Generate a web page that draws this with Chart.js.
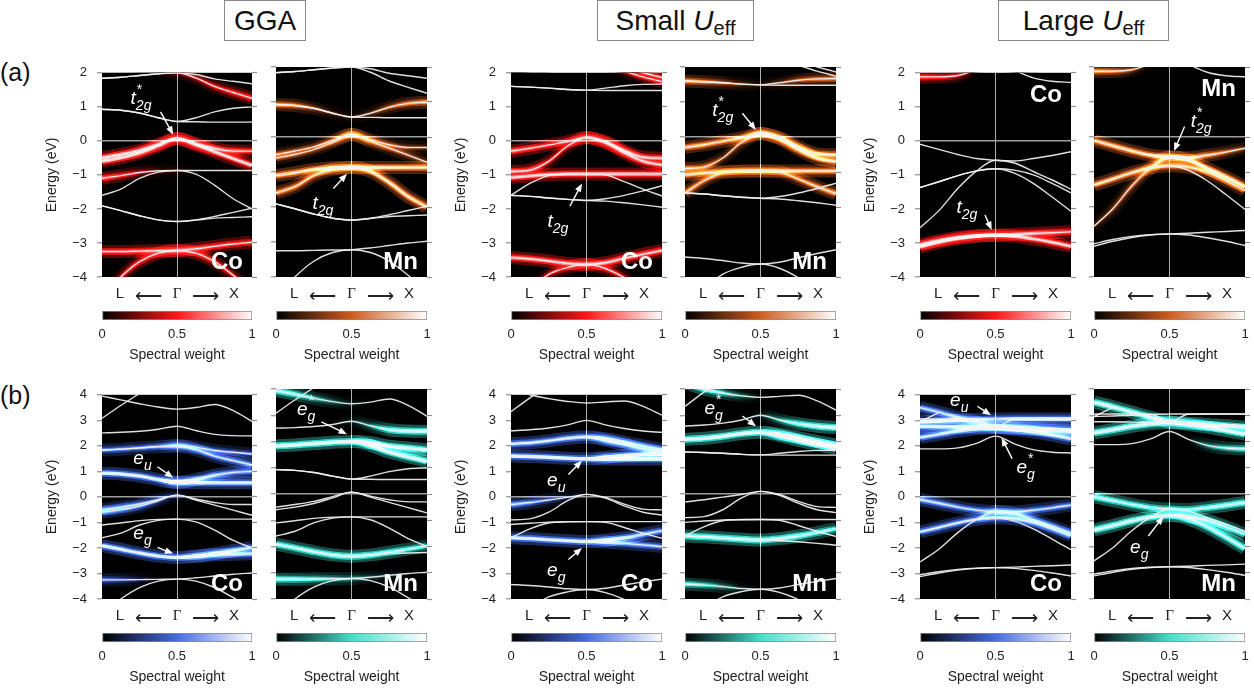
<!DOCTYPE html>
<html>
<head>
<meta charset="utf-8">
<script src="https://cdn.jsdelivr.net/npm/chart.js@4.4.0/dist/chart.umd.min.js"></script>
<style>
body{margin:0;background:#fff;width:1254px;height:690px;position:relative;overflow:hidden;font-family:"Liberation Sans",Arial,sans-serif;color:#111}
canvas{position:absolute}
.box{position:absolute;top:0;height:39px;border:1px solid #8a8a8a;font-size:28px;line-height:39px;text-align:center;background:#fff}
.box sub{font-size:20px;vertical-align:-5px;line-height:0}
.tag{position:absolute;left:0;font-size:25px}
</style>
</head>
<body>
<div class="box" style="left:224px;width:80px">GGA</div>
<div class="box" style="left:597px;width:155px">Small <i>U</i><sub>eff</sub></div>
<div class="box" style="left:998px;width:169px">Large <i>U</i><sub>eff</sub></div>
<div class="tag" style="top:58px">(a)</div>
<div class="tag" style="top:381px">(b)</div>
<script>
// k path L -> Gamma -> X, energies in eV at these k points
const kPoints = [0, 0.125, 0.25, 0.375, 0.5, 0.625, 0.75, 0.875, 1];
const kLabels = ['L', '\u27F5', '\u0393', '\u27F6', 'X'];
const kLabelPos = [0.12, 0.31, 0.5, 0.69, 0.88];
const rangeA = [-4, 2];
const rangeB = [-4, 4];
const weightTicks = [0, 0.5, 1];

const ggaBands = [
  [3.95, 3.8, 3.65, 3.52, 3.44, 3.5, 3.62, 3.38, 2.96],
  [3.08, 3.58, 4.05, null, null, null, null, null, null],
  [2.51, 2.53, 2.57, 2.65, 2.77, 2.6, 2.45, 2.4, 2.39],
  [1.84, 1.87, 1.92, 1.97, 2.0, 1.95, 1.82, 1.75, 1.68],
  [1.84, 1.87, 1.92, 1.97, 2.0, 1.85, 1.6, 1.42, 1.25],
  [0.93, 0.9, 0.82, 0.68, 0.57, 0.68, 0.85, 0.96, 1.0],
  [0.93, 0.9, 0.82, 0.68, 0.57, 0.56, 0.55, 0.55, 0.55],
  [-0.5, -0.4, -0.28, -0.1, 0.07, -0.08, -0.22, -0.3, -0.3],
  [-0.6, -0.5, -0.36, -0.15, 0.07, -0.12, -0.32, -0.52, -0.72],
  [-1.1, -1.02, -0.93, -0.88, -0.87, -0.87, -0.87, -0.87, -0.87],
  [-1.6, -1.42, -1.1, -0.92, -0.87, -0.98, -1.3, -1.7, -2.0],
  [-1.91, -2.05, -2.2, -2.32, -2.37, -2.32, -2.22, -2.1, -1.98],
  [-1.91, -2.05, -2.2, -2.32, -2.37, -2.33, -2.27, -2.25, -2.23],
  [-3.25, -3.25, -3.24, -3.23, -3.22, -3.17, -3.1, -3.03, -2.98],
  [-4.6, -4.0, -3.55, -3.3, -3.22, -3.3, -3.55, -3.95, -4.4]
];
const smallBands = [
  [4.25, 4.0, 3.85, 3.74, 3.68, 3.72, 3.76, 3.55, 3.2],
  [3.34, 3.88, 4.4, null, null, null, null, null, null],
  [2.59, 2.63, 2.7, 2.82, 3.0, 2.82, 2.68, 2.58, 2.53],
  [2.08, 2.12, 2.2, 2.3, 2.35, 2.28, 2.15, 2.0, 1.86],
  [2.08, 2.12, 2.2, 2.3, 2.35, 2.22, 2.05, 1.88, 1.74],
  [1.6, 1.58, 1.55, 1.51, 1.49, 1.55, 1.62, 1.66, 1.67],
  [1.6, 1.58, 1.55, 1.51, 1.49, 1.48, 1.48, 1.48, 1.48],
  [-0.3, -0.22, -0.12, -0.02, 0.1, -0.02, -0.28, -0.48, -0.51],
  [-0.9, -0.86, -0.6, -0.15, 0.1, -0.05, -0.35, -0.6, -0.71],
  [-1.08, -1.03, -0.99, -0.97, -0.97, -0.97, -0.97, -0.97, -0.97],
  [-1.6, -1.25, -1.02, -0.98, -0.97, -1.0, -1.2, -1.42, -1.62],
  [-1.6, -1.63, -1.68, -1.72, -1.75, -1.7, -1.6, -1.47, -1.32],
  [-1.6, -1.63, -1.68, -1.72, -1.75, -1.77, -1.82, -1.88, -1.95],
  [-3.43, -3.47, -3.53, -3.6, -3.63, -3.58, -3.45, -3.33, -3.22],
  [-4.8, -4.35, -3.92, -3.72, -3.63, -3.75, -4.02, -4.4, -4.9]
];
const largeBands = [
  [3.5, 3.32, 3.12, 2.92, 2.75, 2.7, 2.65, 2.6, 2.54],
  [2.95, 3.3, null, null, null, null, null, null, null],
  [2.95, 2.97, 3.0, 3.03, 3.05, 3.05, 3.05, 3.05, 3.05],
  [3.05, 3.05, 3.05, 3.04, 2.75, 3.04, 3.05, 3.05, 3.05],
  [2.75, 2.75, 2.74, 2.73, 2.72, 2.7, 2.68, 2.65, 2.62],
  [2.33, 2.45, 2.58, 2.68, 2.72, 2.65, 2.55, 2.42, 2.28],
  [1.88, 1.88, 1.92, 2.1, 2.38, 2.08, 1.85, 1.75, 1.72],
  [-0.1, -0.25, -0.4, -0.52, -0.57, -0.59, -0.52, -0.43, -0.32],
  [-2.55, -2.05, -1.4, -0.88, -0.57, -0.65, -0.9, -1.15, -1.42],
  [-1.37, -1.2, -1.02, -0.88, -0.82, -0.86, -1.0, -1.25, -1.53],
  [-1.37, -1.2, -1.02, -0.88, -0.82, -0.95, -1.25, -1.65, -2.07],
  [-3.05, -2.93, -2.84, -2.79, -2.77, -2.75, -2.72, -2.7, -2.67],
  [-3.12, -2.98, -2.87, -2.8, -2.77, -2.8, -2.88, -2.98, -3.1]
];

// spectral weight along each band (0 = none), one entry per band
const ggaCoT2g = [0, 0, 0, 0, [0, 0, 0, 0, 0.15, 0.25, 0.35, 0.45, 0.5], 0, 0,
  [0.9, 0.9, 0.85, 0.75, 0.7, 0.75, 0.8, 0.65, 0.45], [0.9, 0.9, 0.85, 0.75, 0.7, 0.8, 0.85, 0.9, 0.9],
  [0.6, 0.45, 0.25, 0.1, 0.05, 0, 0, 0, 0], 0, 0, 0,
  [0.55, 0.55, 0.6, 0.65, 0.7, 0.65, 0.55, 0.5, 0.5], [0, 0.3, 0.45, 0.55, 0.6, 0.55, 0.45, 0.3, 0.2]];
const ggaMnT2g = [0, 0, 0, 0, 0, [0.55, 0.45, 0.25, 0.1, 0.05, 0.15, 0.3, 0.45, 0.55], 0,
  [0.3, 0.25, 0.2, 0.3, 0.55, 0.35, 0.25, 0.2, 0.15], [0.3, 0.25, 0.2, 0.3, 0.55, 0.4, 0.3, 0.25, 0.2],
  [0.65, 0.7, 0.75, 0.85, 0.9, 0.85, 0.8, 0.75, 0.7], [0.55, 0.5, 0.5, 0.6, 0.7, 0.75, 0.75, 0.75, 0.6], 0, 0, 0, 0];
const ggaCoEg = [0, 0, 0, [0.4, 0.4, 0.4, 0.45, 0.45, 0.4, 0.35, 0.3, 0.3], [0, 0, 0, 0, 0.45, 0.45, 0.45, 0.5, 0.5],
  [0.8, 0.8, 0.75, 0.75, 0.8, 0.7, 0.6, 0.5, 0.45], [0, 0, 0, 0, 0.8, 0.8, 0.75, 0.75, 0.75],
  [0.45, 0.4, 0.3, 0.15, 0.05, 0, 0, 0, 0], [0.45, 0.4, 0.3, 0.15, 0.05, 0, 0, 0, 0], 0, 0,
  [0.8, 0.75, 0.75, 0.8, 0.85, 0.8, 0.75, 0.65, 0.55], [0, 0, 0, 0, 0, 0.5, 0.6, 0.6, 0.6],
  [0.35, 0.25, 0.1, 0, 0, 0, 0, 0, 0], 0];
const ggaMnEg = [[0.65, 0.5, 0.3, 0.15, 0.05, 0, 0, 0, 0], 0, [0, 0, 0, 0, 0.05, 0.2, 0.55, 0.75, 0.8],
  [0.85, 0.85, 0.85, 0.9, 0.95, 0.9, 0.9, 0.85, 0.8], [0, 0, 0, 0, 0, 0.9, 0.85, 0.85, 0.8], 0, 0, 0, 0, 0, 0,
  [0.55, 0.55, 0.55, 0.6, 0.65, 0.6, 0.55, 0.45, 0.35], 0, [0.55, 0.5, 0.4, 0.3, 0.2, 0.1, 0.05, 0, 0], 0];

const smallCoT2g = [0, 0, 0, [0, 0, 0, 0, 0, 0.1, 0.25, 0.35, 0.4], [0, 0, 0, 0, 0, 0, 0.2, 0.35, 0.4], 0, 0,
  [0.65, 0.6, 0.5, 0.55, 0.65, 0.7, 0.75, 0.75, 0.75], [0.75, 0.7, 0.35, 0.3, 0.6, 0.7, 0.75, 0.75, 0.75],
  [0.85, 0.85, 0.85, 0.9, 0.92, 0.9, 0.88, 0.85, 0.85], 0, 0, 0,
  [0.75, 0.75, 0.75, 0.8, 0.85, 0.8, 0.7, 0.65, 0.65], [0, 0, 0.3, 0.45, 0.55, 0.45, 0.3, 0, 0]];
const smallMnT2g = [0, 0, 0, 0, 0, [0.55, 0.45, 0.3, 0.15, 0.05, 0.15, 0.3, 0.4, 0.45], 0,
  [0.6, 0.6, 0.55, 0.65, 0.8, 0.8, 0.75, 0.7, 0.7], [0.55, 0.5, 0.2, 0.3, 0.8, 0.8, 0.75, 0.7, 0.7],
  [0.65, 0.65, 0.65, 0.7, 0.75, 0.7, 0.65, 0.6, 0.6], [0.55, 0.45, 0.35, 0.3, 0.3, 0.35, 0.45, 0.55, 0.6], 0, 0, 0, 0];
const smallCoEg = [0, 0, 0, [0.6, 0.6, 0.6, 0.65, 0.7, 0.65, 0.6, 0.55, 0.5], [0, 0, 0, 0, 0, 0.6, 0.55, 0.5, 0.5],
  [0.85, 0.85, 0.85, 0.85, 0.9, 0.85, 0.8, 0.8, 0.8], [0, 0, 0, 0, 0, 0.85, 0.85, 0.85, 0.85],
  [0.55, 0.45, 0.25, 0.1, 0, 0, 0, 0, 0], 0, 0, 0,
  [0.75, 0.75, 0.7, 0.75, 0.8, 0.75, 0.7, 0.6, 0.5], [0, 0, 0, 0, 0, 0.6, 0.55, 0.5, 0.45], 0, 0];
const smallMnEg = [[0.6, 0.55, 0.35, 0.15, 0, 0, 0, 0, 0], 0, [0, 0, 0, 0, 0.05, 0.25, 0.55, 0.75, 0.8],
  [0.85, 0.85, 0.85, 0.9, 0.92, 0.9, 0.9, 0.85, 0.85], [0, 0, 0, 0, 0, 0.9, 0.85, 0.85, 0.8], 0, 0, 0, 0, 0, 0,
  [0.6, 0.6, 0.6, 0.65, 0.7, 0.65, 0.6, 0.5, 0.4], 0, [0.45, 0.35, 0.2, 0.05, 0, 0, 0, 0, 0], 0];

const largeCoT2g = [0, 0, 0, 0, 0, 0, [0.55, 0.45, 0.3, 0, 0, 0, 0, 0, 0], 0, 0, 0, 0,
  [0.85, 0.85, 0.85, 0.9, 0.9, 0.85, 0.8, 0.65, 0.55], [0.85, 0.85, 0.88, 0.9, 0.9, 0.9, 0.88, 0.85, 0.8]];
const largeMnT2g = [0, 0, 0, 0, 0, 0, [0.55, 0.45, 0.25, 0, 0, 0, 0, 0, 0],
  [0.6, 0.65, 0.7, 0.8, 0.92, 0.9, 0.55, 0.35, 0.2], [0.1, 0.2, 0.3, 0.45, 0.92, 0.9, 0.9, 0.85, 0.8],
  [0.6, 0.6, 0.6, 0.65, 0.75, 0.65, 0.55, 0.45, 0.4], 0, 0, 0];
const largeCoEg = [[0.55, 0.55, 0.55, 0.5, 0.5, 0.5, 0.5, 0.5, 0.5], 0, [0.95, 0.95, 0.95, 0.9, 0.55, 0.9, 0.95, 0.95, 0.95], 0,
  [0.7, 0.7, 0.7, 0.7, 0.7, 0.7, 0.7, 0.7, 0.7], [0.65, 0.65, 0.65, 0.65, 0.65, 0.65, 0.65, 0.65, 0.65], 0,
  [0.6, 0.55, 0.5, 0.5, 0.5, 0.5, 0.5, 0.45, 0.45], [0, 0, 0, 0, 0.5, 0.5, 0.5, 0.45, 0.45],
  [0.55, 0.55, 0.55, 0.6, 0.6, 0.6, 0.55, 0.5, 0.5], 0, 0, 0];
const largeMnEg = [[0.85, 0.85, 0.85, 0.85, 0.85, 0.8, 0.8, 0.8, 0.8], 0, 0, 0, 0,
  [0.8, 0.8, 0.8, 0.82, 0.85, 0.82, 0.8, 0.8, 0.8], [0, 0, 0, 0, 0, 0, 0.2, 0.35, 0.45],
  [0.6, 0.55, 0.5, 0.5, 0.5, 0.45, 0.55, 0.6, 0.65], 0,
  [0.7, 0.7, 0.72, 0.75, 0.8, 0.75, 0.7, 0.6, 0.5], [0, 0, 0, 0, 0, 0.6, 0.6, 0.6, 0.6], 0, 0];

const red = [255, 22, 22], orange = [206, 92, 30], blue = [68, 108, 228], teal = [64, 224, 205];

const panels = [
  {bands: ggaBands, weights: ggaCoT2g, base: red, range: rangeA, left: 102, top: 67, w: 150, el: 'Co', axis: true,
   notes: [{t: 't', sub: '2g', sup: '*', x: 0.26, y: 1.2, from: [0.39, 0.85], to: [0.475, 0.18]}]},
  {bands: ggaBands, weights: ggaMnT2g, base: orange, range: rangeA, left: 276, top: 67, w: 151, el: 'Mn',
   notes: [{t: 't', sub: '2g', x: 0.31, y: -1.95, from: [0.38, -1.47], to: [0.47, -1.05]}]},
  {bands: smallBands, weights: smallCoT2g, base: red, range: rangeA, left: 511, top: 67, w: 151, el: 'Co', axis: true,
   notes: [{t: 't', sub: '2g', x: 0.31, y: -2.4, from: [0.39, -1.92], to: [0.47, -1.25]}]},
  {bands: smallBands, weights: smallMnT2g, base: orange, range: rangeA, left: 685, top: 67, w: 151, el: 'Mn',
   notes: [{t: 't', sub: '2g', sup: '*', x: 0.25, y: 0.72, from: [0.38, 0.68], to: [0.47, 0.2]}]},
  {bands: largeBands, weights: largeCoT2g, base: red, range: rangeA, left: 920, top: 67, w: 151, el: 'Co', axis: true, elTop: true,
   notes: [{t: 't', sub: '2g', x: 0.31, y: -2.0, from: [0.43, -2.18], to: [0.475, -2.62]}]},
  {bands: largeBands, weights: largeMnT2g, base: orange, range: rangeA, left: 1094, top: 67, w: 151, el: 'Mn', elTop: true,
   notes: [{t: 't', sub: '2g', sup: '*', x: 0.71, y: 0.4, from: [0.6, 0.3], to: [0.53, -0.4]}]},
  {bands: ggaBands, weights: ggaCoEg, base: blue, range: rangeB, left: 102, top: 389, w: 150, el: 'Co', axis: true,
   notes: [{t: 'e', sub: 'u', x: 0.27, y: 1.45, from: [0.37, 1.18], to: [0.475, 0.75]},
           {t: 'e', sub: 'g', x: 0.27, y: -1.5, from: [0.37, -1.98], to: [0.475, -2.22]}]},
  {bands: ggaBands, weights: ggaMnEg, base: teal, range: rangeB, left: 276, top: 389, w: 151, el: 'Mn',
   notes: [{t: 'e', sub: 'g', sup: '*', x: 0.2, y: 3.15, from: [0.3, 2.75], to: [0.47, 2.28]}]},
  {bands: smallBands, weights: smallCoEg, base: blue, range: rangeB, left: 511, top: 389, w: 151, el: 'Co', axis: true,
   notes: [{t: 'e', sub: 'u', x: 0.3, y: 0.6, from: [0.38, 0.88], to: [0.47, 1.42]},
           {t: 'e', sub: 'g', x: 0.3, y: -2.95, from: [0.38, -2.45], to: [0.47, -2.0]}]},
  {bands: smallBands, weights: smallMnEg, base: teal, range: rangeB, left: 685, top: 389, w: 151, el: 'Mn',
   notes: [{t: 'e', sub: 'g', sup: '*', x: 0.19, y: 3.2, from: [0.38, 2.97], to: [0.47, 2.58]}]},
  {bands: largeBands, weights: largeCoEg, base: blue, range: rangeB, left: 920, top: 389, w: 151, el: 'Co', axis: true,
   notes: [{t: 'e', sub: 'u', x: 0.26, y: 3.7, from: [0.38, 3.55], to: [0.47, 3.2]},
           {t: 'e', sub: 'g', sup: '*', x: 0.7, y: 1.1, from: [0.61, 1.5], to: [0.54, 2.32]}]},
  {bands: largeBands, weights: largeMnEg, base: teal, range: rangeB, left: 1094, top: 389, w: 151, el: 'Mn',
   notes: [{t: 'e', sub: 'g', x: 0.3, y: -2.1, from: [0.36, -1.6], to: [0.46, -0.85]}]}
];

const PH = 210, TOP = 12, BOTTOM = 30, RIGHT = 8;
const tickGray = '#8e8e8e';
const sans = '"Liberation Sans", Arial, sans-serif';

function mix(a, b, t) { return a.map((v, i) => Math.round(v + (b[i] - v) * t)); }
function weightColor(base, w, alpha) {
  const c = w < 0.5 ? mix([0, 0, 0], base, w / 0.5) : mix(base, [255, 255, 255], (w - 0.5) / 0.5);
  return 'rgba(' + c[0] + ',' + c[1] + ',' + c[2] + ',' + alpha + ')';
}
function haloColor(base, w, alpha) {
  const c = mix([0, 0, 0], base, Math.min(1, w * 1.6));
  return 'rgba(' + c[0] + ',' + c[1] + ',' + c[2] + ',' + alpha + ')';
}
function bandGradient(chart, colorFn, base, ws, alpha) {
  if (!chart.chartArea) return 'rgba(0,0,0,0)';
  const xs = chart.scales.x;
  const g = chart.ctx.createLinearGradient(xs.getPixelForValue(0), 0, xs.getPixelForValue(1), 0);
  ws.forEach((w, i) => g.addColorStop(kPoints[i], colorFn(base, w, alpha)));
  return g;
}
function fmtE(v) { return v < 0 ? '\u2212' + (-v) : String(v); }

function drawNote(ctx, chart, n) {
  const xs = chart.scales.x, ys = chart.scales.y;
  const x1 = xs.getPixelForValue(n.from[0]), y1 = ys.getPixelForValue(n.from[1]);
  const x2 = xs.getPixelForValue(n.to[0]), y2 = ys.getPixelForValue(n.to[1]);
  const a = Math.atan2(y2 - y1, x2 - x1);
  ctx.save();
  ctx.strokeStyle = '#fff'; ctx.fillStyle = '#fff'; ctx.lineWidth = 1.4;
  ctx.beginPath(); ctx.moveTo(x1, y1); ctx.lineTo(x2 - 7 * Math.cos(a), y2 - 7 * Math.sin(a)); ctx.stroke();
  ctx.beginPath(); ctx.moveTo(x2, y2);
  ctx.lineTo(x2 - 9 * Math.cos(a - 0.38), y2 - 9 * Math.sin(a - 0.38));
  ctx.lineTo(x2 - 9 * Math.cos(a + 0.38), y2 - 9 * Math.sin(a + 0.38));
  ctx.closePath(); ctx.fill();
  const cx = xs.getPixelForValue(n.x), cy = ys.getPixelForValue(n.y);
  ctx.textAlign = 'left'; ctx.textBaseline = 'alphabetic';
  ctx.font = 'italic 19px ' + sans;
  const bw = ctx.measureText(n.t).width;
  ctx.font = 'italic 14px ' + sans;
  const sw = ctx.measureText(n.sub).width;
  const x0 = cx - (bw + sw) / 2;
  ctx.font = 'italic 19px ' + sans; ctx.fillText(n.t, x0, cy + 4);
  ctx.font = 'italic 14px ' + sans; ctx.fillText(n.sub, x0 + bw, cy + 10);
  if (n.sup) { ctx.font = '14px ' + sans; ctx.fillText(n.sup, x0 + bw + 1, cy - 6); }
  ctx.restore();
}

const panelPlugin = {
  id: 'panel',
  beforeDraw(chart) {
    const a = chart.chartArea, ctx = chart.ctx;
    ctx.save(); ctx.fillStyle = '#000'; ctx.fillRect(a.left, a.top, a.right - a.left, a.bottom - a.top); ctx.restore();
  },
  beforeDatasetDraw(chart, args) {
    if (chart.data.datasets[args.index].glow) chart.ctx.globalCompositeOperation = 'lighter';
  },
  afterDatasetDraw(chart) { chart.ctx.globalCompositeOperation = 'source-over'; },
  afterDraw(chart) {
    const p = chart.options.plugins.panel, a = chart.chartArea, ctx = chart.ctx;
    p.notes.forEach(n => drawNote(ctx, chart, n));
    ctx.save();
    ctx.fillStyle = '#fff'; ctx.font = 'bold 24px ' + sans; ctx.textAlign = 'right'; ctx.textBaseline = 'alphabetic';
    ctx.fillText(p.el, a.right - 9, p.elTop ? a.top + 29 : a.bottom - 8);
    ctx.restore();
  }
};

function makePanel(p) {
  const LEFT = p.axis ? 62 : 8;
  const cv = document.createElement('canvas');
  cv.width = LEFT + p.w + RIGHT; cv.height = TOP + PH + BOTTOM;
  cv.style.left = (p.left - LEFT) + 'px'; cv.style.top = (p.top - TOP) + 'px';
  document.body.appendChild(cv);
  const datasets = [];
  p.bands.forEach((b, i) => {
    const data = b.map((e, j) => ({x: kPoints[j], y: e}));
    const w = p.weights[i];
    if (w) {
      datasets.push({data, glow: true, order: 4, borderWidth: 13, borderColor: c => bandGradient(c.chart, haloColor, p.base, w, 0.38)});
      datasets.push({data, glow: true, order: 3, borderWidth: 7, borderColor: c => bandGradient(c.chart, haloColor, p.base, w, 0.55)});
      datasets.push({data, glow: true, order: 2, borderWidth: 3.5, borderColor: c => bandGradient(c.chart, weightColor, p.base, w, 0.75)});
    }
    datasets.push({data, order: 1, borderWidth: 1.4, borderColor: 'rgba(240,240,240,0.93)'});
  });
  new Chart(cv, {
    type: 'line',
    data: {datasets},
    options: {
      animation: false, responsive: false, events: [],
      layout: {padding: {left: 0, right: 0, top: TOP, bottom: 0}},
      elements: {point: {radius: 0}, line: {cubicInterpolationMode: 'monotone', borderCapStyle: 'butt', fill: false}},
      plugins: {legend: {display: false}, tooltip: {enabled: false}, panel: {notes: p.notes, el: p.el, elTop: p.elTop}},
      scales: {
        x: {
          type: 'linear', min: 0, max: 1, position: 'bottom', z: 1,
          afterBuildTicks: s => { s.ticks = kLabelPos.map(v => ({value: v})); },
          afterFit: s => { s.height = BOTTOM; },
          ticks: {autoSkip: false, maxRotation: 0, padding: 8, color: '#222',
                  font: c => ({family: c.index === 2 ? '"Liberation Serif", serif' : sans, size: (c.index === 1 || c.index === 3) ? 19 : 15}),
                  callback: (v, i) => kLabels[i]},
          grid: {drawTicks: false, lineWidth: 1, color: c => c.tick && c.tick.value === 0.5 ? 'rgba(205,205,205,0.85)' : 'rgba(0,0,0,0)'},
          border: {display: false}
        },
        y: {
          type: 'linear', min: p.range[0], max: p.range[1], position: 'left', z: 1,
          afterFit: s => { s.width = LEFT; },
          ticks: {display: !!p.axis, stepSize: 1, padding: 10, color: '#222', font: {family: sans, size: 13}, callback: v => fmtE(v)},
          grid: {tickLength: 5, tickColor: tickGray, tickWidth: 1.2, lineWidth: 1.5,
                 color: c => c.tick && c.tick.value === 0 ? 'rgba(165,165,165,0.95)' : 'rgba(0,0,0,0)'},
          border: {display: false},
          title: {display: !!p.axis, text: 'Energy (eV)', color: '#222', font: {family: sans, size: 14}, padding: {top: 4, bottom: 0}}
        },
        y2: {
          type: 'linear', min: p.range[0], max: p.range[1], position: 'right',
          afterFit: s => { s.width = RIGHT; },
          ticks: {display: false, stepSize: 1},
          grid: {drawOnChartArea: false, tickLength: 5, tickColor: tickGray, tickWidth: 1.2},
          border: {display: false}
        }
      }
    },
    plugins: [panelPlugin]
  });
}

function makeColorbar(p) {
  const cbTop = p.top + PH + 34;
  const cv = document.createElement('canvas');
  cv.width = p.w + 24; cv.height = 62;
  cv.style.left = (p.left - 12) + 'px'; cv.style.top = (cbTop - 2) + 'px';
  document.body.appendChild(cv);
  new Chart(cv, {
    type: 'bar',
    data: {labels: ['w'], datasets: [{
      data: [[0, 1]], borderColor: '#8a8a8a', borderWidth: 1, borderSkipped: false,
      barPercentage: 1, categoryPercentage: 1,
      backgroundColor: c => {
        const a = c.chart.chartArea;
        if (!a) return '#000';
        const g = c.chart.ctx.createLinearGradient(a.left, 0, a.right, 0);
        weightTicks.forEach(v => g.addColorStop(v, weightColor(p.base, v, 1)));
        return g;
      }
    }]},
    options: {
      indexAxis: 'y', animation: false, responsive: false, events: [],
      layout: {padding: {left: 12, right: 12, top: 2, bottom: 0}},
      plugins: {legend: {display: false}, tooltip: {enabled: false}},
      scales: {
        y: {display: false},
        x: {
          type: 'linear', min: 0, max: 1, z: 1,
          afterBuildTicks: s => { s.ticks = weightTicks.map(v => ({value: v})); },
          afterFit: s => { s.height = 51; },
          ticks: {padding: 7, color: '#222', font: {family: sans, size: 13}, callback: v => String(v)},
          grid: {drawTicks: false, color: c => c.tick && c.tick.value === 0.5 ? '#151515' : 'rgba(0,0,0,0)'},
          border: {display: false},
          title: {display: true, text: 'Spectral weight', color: '#222', font: {family: sans, size: 14}, padding: {top: 0, bottom: 7}}
        }
      }
    }
  });
}

panels.forEach(p => { makePanel(p); makeColorbar(p); });
</script>
</body>
</html>
